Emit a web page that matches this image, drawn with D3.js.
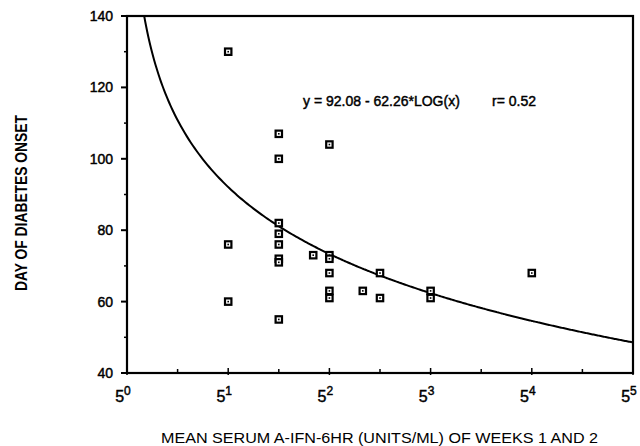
<!DOCTYPE html>
<html>
<head>
<meta charset="utf-8">
<script src="https://cdn.jsdelivr.net/npm/d3@7"></script>
<style>
  body { margin: 0; background: #fff; }
  text { font-family: "Liberation Sans", Arial, sans-serif; fill: #000; }
  .heavy { stroke: #000; stroke-width: 0.45px; }
</style>
</head>
<body>
<div id="chart"></div>
<script>
// x is the exponent n of 5^n (log5 of mean serum A-IFN)
var onsetX = [1, 1, 1,
              1.5, 1.5, 1.5, 1.5, 1.5, 1.5, 1.5, 1.5,
              1.84,
              2, 2, 2, 2, 2, 2,
              2.33,
              2.5, 2.5,
              3, 3,
              4];
var onsetDay = [130, 76, 60,
                107, 100, 82, 79, 76, 72, 71, 55,
                73,
                104, 73, 72, 68, 63, 61,
                63,
                68, 61,
                63, 61,
                68];
var xTicks = [0, 1, 2, 3, 4, 5];
var yTicks = [40, 60, 80, 100, 120, 140];
var fitA = 92.08, fitB = 62.26;

var W = 640, H = 446,
    pLeft = 127, pRight = 633, pTop = 16, pBottom = 373;

var svg = d3.select("#chart").append("svg")
    .attr("width", W)
    .attr("height", H);

var x = d3.scaleLinear().domain([0, 5]).range([pLeft, pRight]);
var y = d3.scaleLinear().domain([40, 140]).range([pBottom, pTop]);

svg.append("clipPath").attr("id", "plot-clip")
    .append("rect")
    .attr("x", pLeft).attr("y", pTop)
    .attr("width", pRight - pLeft).attr("height", pBottom - pTop);

// frame
svg.append("rect")
    .attr("x", pLeft).attr("y", pTop)
    .attr("width", pRight - pLeft).attr("height", pBottom - pTop)
    .style("fill", "none").style("stroke", "#000").style("stroke-width", 2.2);

// y axis ticks (outward)
var yMinor = d3.range(50, 140, 20);
svg.selectAll(".ymaj").data(yTicks).enter().append("line")
    .attr("x1", pLeft - 6).attr("x2", pLeft)
    .attr("y1", function(d){return y(d);}).attr("y2", function(d){return y(d);})
    .style("stroke", "#000").style("stroke-width", 2);
svg.selectAll(".ymin").data(yMinor).enter().append("line")
    .attr("x1", pLeft - 3).attr("x2", pLeft)
    .attr("y1", function(d){return y(d);}).attr("y2", function(d){return y(d);})
    .style("stroke", "#000").style("stroke-width", 1.5);
svg.selectAll(".ylab").data(yTicks).enter().append("text")
    .attr("class", "heavy")
    .attr("x", pLeft - 14)
    .attr("y", function(d){return y(d) + 5;})
    .attr("text-anchor", "end")
    .style("font-size", "14px")
    .text(function(d){return d;});

// x axis ticks (inward)
var xMinor = d3.range(0.5, 5, 1);
svg.selectAll(".xmaj").data(xTicks).enter().append("line")
    .attr("x1", function(d){return x(d);}).attr("x2", function(d){return x(d);})
    .attr("y1", pBottom - 5).attr("y2", pBottom + 2)
    .style("stroke", "#000").style("stroke-width", 1.5);
svg.selectAll(".xmin").data(xMinor).enter().append("line")
    .attr("x1", function(d){return x(d);}).attr("x2", function(d){return x(d);})
    .attr("y1", pBottom - 4).attr("y2", pBottom)
    .style("stroke", "#000").style("stroke-width", 1.5);
var xl = svg.selectAll(".xlab").data(xTicks).enter().append("text")
    .attr("class", "heavy")
    .attr("x", function(d){return x(d) - 4;})
    .attr("y", pBottom + 29)
    .attr("text-anchor", "middle")
    .style("font-size", "16px");
xl.append("tspan").text("5");
xl.append("tspan").attr("dy", -7).style("font-size", "12px").text(function(d){return d;});

// fitted curve
var curveT = d3.range(0.15, 5.001, 0.02);
var line = d3.line()
    .x(function(t){return x(t);})
    .y(function(t){return y(fitA - fitB * Math.log10(t));})
    .curve(d3.curveMonotoneX);
svg.append("path")
    .datum(curveT)
    .attr("clip-path", "url(#plot-clip)")
    .attr("d", line)
    .style("fill", "none").style("stroke", "#000").style("stroke-width", 2);

// markers
var pts = svg.selectAll(".pt").data(onsetX).enter().append("g")
    .attr("transform", function(d, i){return "translate(" + x(d) + "," + y(onsetDay[i]) + ")";});
pts.append("rect")
    .attr("x", -3.2).attr("y", -3.2).attr("width", 6.4).attr("height", 6.4)
    .style("fill", "#fff").style("stroke", "#000").style("stroke-width", 2.2);
pts.append("rect")
    .attr("x", -0.8).attr("y", -0.8).attr("width", 1.6).attr("height", 1.6)
    .style("fill", "#000");

// equation
svg.append("text")
    .attr("class", "heavy")
    .attr("x", 303).attr("y", 106)
    .style("font-size", "14px")
    .text("y = 92.08 - 62.26*LOG(x)");
svg.append("text")
    .attr("class", "heavy")
    .attr("x", 492).attr("y", 106)
    .style("font-size", "14px")
    .text("r= 0.52");

// axis titles
svg.append("text")
    .attr("x", 161).attr("y", 443)
    .attr("textLength", 437).attr("lengthAdjust", "spacingAndGlyphs")
    .style("font-size", "14px")
    .text("MEAN SERUM A-IFN-6HR (UNITS/ML) OF WEEKS 1 AND 2");
svg.append("text")
    .attr("transform", "translate(27,291) rotate(-90)")
    .attr("textLength", 176).attr("lengthAdjust", "spacingAndGlyphs")
    .style("font-size", "17px").style("font-weight", "bold")
    .text("DAY OF DIABETES ONSET");
</script>
</body>
</html>
